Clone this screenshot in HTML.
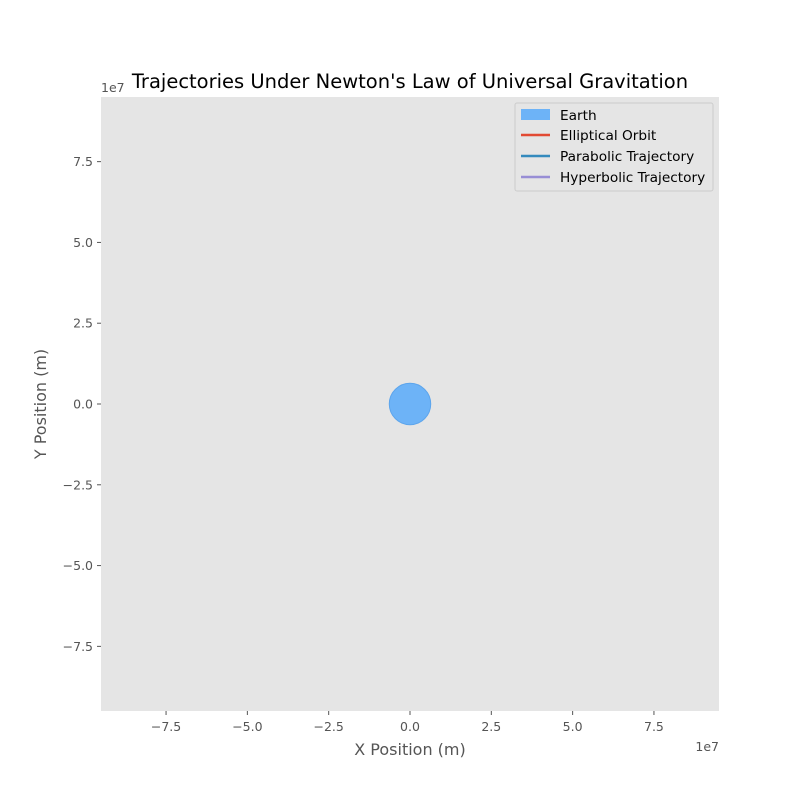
<!DOCTYPE html>
<html><head><meta charset="utf-8"><style>
body{margin:0;background:#fff;font-family:"Liberation Sans","DejaVu Sans",sans-serif}
svg text{font-family:"DejaVu Sans","Liberation Sans",sans-serif}
</style></head><body>
<svg width="800" height="800" viewBox="0 0 800 800">
<rect x="0" y="0" width="800" height="800" fill="#fff"/>
<rect x="101" y="97" width="618" height="614" fill="#E5E5E5"/>
<g id="marks"></g>
<g id="xticks" fill="#555" font-size="12.5"></g>
<g id="yticks" fill="#555" font-size="12.5"></g>
<text x="101" y="92" fill="#555" font-size="12.5">1e7</text>
<text x="719" y="751" fill="#555" font-size="12.5" text-anchor="end">1e7</text>
<text x="410" y="88" font-size="19.5" text-anchor="middle" fill="#000">Trajectories Under Newton's Law of Universal Gravitation</text>
<text x="410" y="755" font-size="16" text-anchor="middle" fill="#555">X Position (m)</text>
<text x="0" y="0" font-size="16" text-anchor="middle" fill="#555" transform="translate(46,404) rotate(-90)">Y Position (m)</text>
<g>
<rect x="515" y="103" width="198" height="88" fill="#E5E5E5" stroke="#ccc" stroke-width="1" rx="2"/>
<rect x="521" y="109" width="29" height="11" fill="#6DB3F7"/>
<text x="560" y="120" font-size="13.7" fill="#000">Earth</text>
<line x1="521" y1="135" x2="550" y2="135" stroke="#E24A33" stroke-width="2.5"/>
<text x="560" y="140" font-size="13.7" fill="#000">Elliptical Orbit</text>
<line x1="521" y1="156" x2="550" y2="156" stroke="#348ABD" stroke-width="2.5"/>
<text x="560" y="161" font-size="13.7" fill="#000">Parabolic Trajectory</text>
<line x1="521" y1="177" x2="550" y2="177" stroke="#988ED5" stroke-width="2.5"/>
<text x="560" y="182" font-size="13.7" fill="#000">Hyperbolic Trajectory</text>
</g>
</svg>
<script>
const xTicks=[-7.5,-5.0,-2.5,0.0,2.5,5.0,7.5];
const yTicks=[-7.5,-5.0,-2.5,0.0,2.5,5.0,7.5];
const earthCenter=[0,0];
const earthRadius=[6.371e6];
const xDomain=[-9.5e7,9.5e7];
const yDomain=[-9.5e7,9.5e7];
const X0=101,X1=719,Y0=711,Y1=97;
const sx=v=>X0+(v-xDomain[0])/(xDomain[1]-xDomain[0])*(X1-X0);
const sy=v=>Y0-(v-yDomain[0])/(yDomain[1]-yDomain[0])*(Y0-Y1);
const NS="http://www.w3.org/2000/svg";
const xt=document.getElementById('xticks'),yt=document.getElementById('yticks');
const neg=v=>(v<0?'\u2212':'')+Math.abs(v).toFixed(1);
xTicks.forEach(t=>{
 const px=sx(t*1e7);
 const l=document.createElementNS(NS,'line');
 l.setAttribute('x1',px);l.setAttribute('x2',px);l.setAttribute('y1',711);l.setAttribute('y2',715);l.setAttribute('stroke','#555');
 
 
 xt.appendChild(l);
 const tx=document.createElementNS(NS,'text');
 tx.setAttribute('x',px);tx.setAttribute('y',731);tx.setAttribute('text-anchor','middle');tx.textContent=neg(t);
 
 
 xt.appendChild(tx);
});
yTicks.forEach(t=>{
 const py=sy(t*1e7);
 const l=document.createElementNS(NS,'line');
 l.setAttribute('x1',97);l.setAttribute('x2',101);l.setAttribute('y1',py);l.setAttribute('y2',py);l.setAttribute('stroke','#555');
 
 
 yt.appendChild(l);
 const tx=document.createElementNS(NS,'text');
 tx.setAttribute('x',93);tx.setAttribute('y',py+4.5);tx.setAttribute('text-anchor','end');tx.textContent=neg(t);
 
 
 yt.appendChild(tx);
});
const c=document.createElementNS(NS,'circle');
c.setAttribute('cx',sx(earthCenter[0]));c.setAttribute('cy',sy(earthCenter[1]));
c.setAttribute('r',Math.abs(sx(earthRadius[0])-sx(0)));
c.setAttribute('fill','#6DB3F7');c.setAttribute('stroke','#5DA5EC');


document.getElementById('marks').appendChild(c);
</script>
</body></html>
